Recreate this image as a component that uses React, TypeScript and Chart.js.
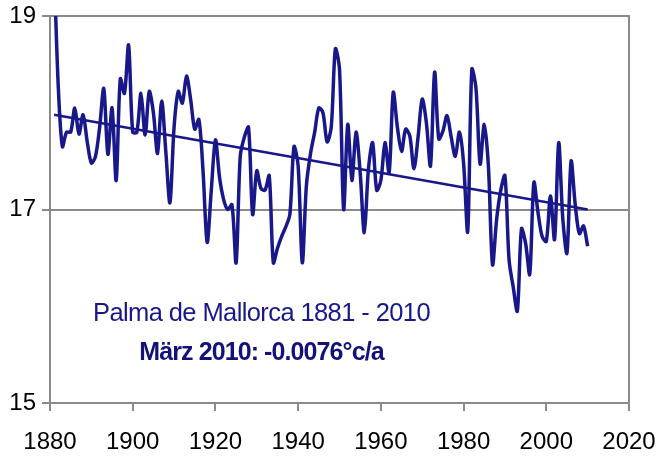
import { useEffect, useRef } from 'react';
import { Chart, registerables } from 'chart.js';

Chart.register(...registerables);

// March mean temperature, Palma de Mallorca, one value per year from START_YEAR
const START_YEAR = 1881;
const marchTemp: number[] = [
  19.5, 18.27, 17.65, 17.8, 17.8, 18.05, 17.78, 17.98, 17.7, 17.48,          // 1881-1890
  17.55, 17.85, 18.25, 17.57, 18.05, 17.3, 18.35, 18.2, 18.7, 17.8,          // 1891-1900
  17.8, 18.2, 17.77, 18.22, 18.0, 17.58, 18.12, 17.6, 17.07, 17.85,          // 1901-1910
  18.22, 18.1, 18.38, 18.14, 17.83, 17.93, 17.4, 16.66, 17.2, 17.72,         // 1911-1920
  17.33, 17.1, 17.0, 17.05, 16.45, 17.55, 17.75, 17.85, 16.95, 17.4,         // 1921-1930
  17.22, 17.2, 17.35, 16.45, 16.6, 16.72, 16.82, 16.95, 17.65, 17.45,        // 1931-1940
  16.45, 17.25, 17.58, 17.8, 18.05, 18.0, 17.7, 17.85, 18.66, 18.45,         // 1941-1950
  17.0, 17.88, 17.3, 17.8, 17.38, 16.76, 17.42, 17.69, 17.2, 17.3,           // 1951-1960
  17.69, 17.38, 18.21, 17.85, 17.6, 17.83, 17.76, 17.42, 17.75, 18.14,       // 1961-1970
  17.9, 17.45, 18.42, 17.73, 17.81, 17.97, 17.75, 17.55, 17.8, 17.48,        // 1971-1980
  16.77, 18.45, 18.25, 17.47, 17.88, 17.45, 16.43, 16.9, 17.2, 17.35,        // 1981-1990
  16.48, 16.2, 15.95, 16.8, 16.65, 16.33, 17.28, 16.97, 16.72, 16.67,        // 1991-2000
  17.14, 16.69, 17.69, 16.9, 16.55, 17.5, 17.05, 16.75, 16.83, 16.62,        // 2001-2010
];

// linear trend end points (-0.0076 °C per year)
const trendYears = [1881, 2010];
const trendValues = [17.98, 17.0];

const X_MIN = 1880;
const X_MAX = 2020;
const X_STEP = 20;
const Y_MIN = 15;
const Y_MAX = 19;
const Y_STEP = 2;

const TITLE = 'Palma de Mallorca 1881 - 2010';
const SUBTITLE = 'März 2010: -0.0076°c/a';

const NAVY = '#18188a';
const AXIS_GREY = '#8a8a8a';
const FONT = "'Liberation Sans', Arial, sans-serif";

const rightBorder = {
  id: 'rightBorder',
  afterDraw(chart: Chart) {
    const { ctx, chartArea } = chart;
    ctx.save();
    ctx.strokeStyle = AXIS_GREY;
    ctx.lineWidth = 2;
    ctx.beginPath();
    ctx.moveTo(chartArea.right, chartArea.top - 1);
    ctx.lineTo(chartArea.right, chartArea.bottom);
    ctx.stroke();
    ctx.restore();
  },
};

export default function App() {
  const canvasRef = useRef<HTMLCanvasElement>(null);

  useEffect(() => {
    if (!canvasRef.current) return;
    const series = marchTemp.map((v, i) => ({ x: START_YEAR + i, y: v }));
    const trend = trendYears.map((yr, i) => ({ x: yr, y: trendValues[i] }));

    const chart = new Chart(canvasRef.current, {
      type: 'line',
      data: {
        datasets: [
          {
            label: 'März',
            data: series,
            borderColor: NAVY,
            borderWidth: 3.5,
            pointRadius: 0,
            tension: 0.3,
            fill: false,
          },
          {
            label: 'Trend',
            data: trend,
            borderColor: NAVY,
            borderWidth: 2.5,
            pointRadius: 0,
            tension: 0,
            fill: false,
          },
        ],
      },
      options: {
        animation: false,
        responsive: false,
        maintainAspectRatio: false,
        layout: { padding: { left: 0, right: 29, top: 16, bottom: 0 } },
        plugins: {
          legend: { display: false },
          tooltip: { enabled: false },
        },
        scales: {
          x: {
            type: 'linear',
            min: X_MIN,
            max: X_MAX,
            afterFit: (scale: any) => {
              scale.height = 63;
              scale.paddingLeft = 0;
              scale.paddingRight = 0;
            },
            ticks: {
              stepSize: X_STEP,
              color: '#000',
              font: { family: FONT, size: 24 },
              padding: 17,
              maxRotation: 0,
              callback: (v) => String(v),
            },
            grid: {
              drawOnChartArea: false,
              drawTicks: true,
              tickLength: 8,
              color: AXIS_GREY,
              lineWidth: 2,
            },
            border: { display: true, color: AXIS_GREY, width: 2 },
          },
          y: {
            type: 'linear',
            min: Y_MIN,
            max: Y_MAX,
            afterFit: (scale: any) => {
              scale.width = 50;
              scale.paddingTop = 0;
              scale.paddingBottom = 0;
            },
            ticks: {
              stepSize: Y_STEP,
              color: '#000',
              font: { family: FONT, size: 24 },
              padding: 6,
            },
            grid: {
              color: AXIS_GREY,
              lineWidth: 2,
              tickLength: 8,
            },
            border: { display: true, color: AXIS_GREY, width: 2 },
          },
        },
      },
      plugins: [rightBorder],
    });
    return () => { chart.destroy(); };
  }, []);

  return (
    <div style={{ position: 'fixed', left: 0, top: 0, width: 658, height: 466, background: '#fff' }}>
      <canvas ref={canvasRef} width={658} height={466} style={{ width: 658, height: 466 }} />
      <div
        style={{
          position: 'absolute', left: 0, width: 523, top: 296, textAlign: 'center',
          fontFamily: FONT, fontSize: 25.5, color: NAVY, letterSpacing: -0.6, lineHeight: '32px',
        }}
      >
        {TITLE}
      </div>
      <div
        style={{
          position: 'absolute', left: 0, width: 523, top: 335, textAlign: 'center',
          fontFamily: FONT, fontSize: 25, fontWeight: 'bold', color: '#12127a', letterSpacing: -0.9, lineHeight: '32px',
        }}
      >
        {SUBTITLE}
      </div>
    </div>
  );
}
